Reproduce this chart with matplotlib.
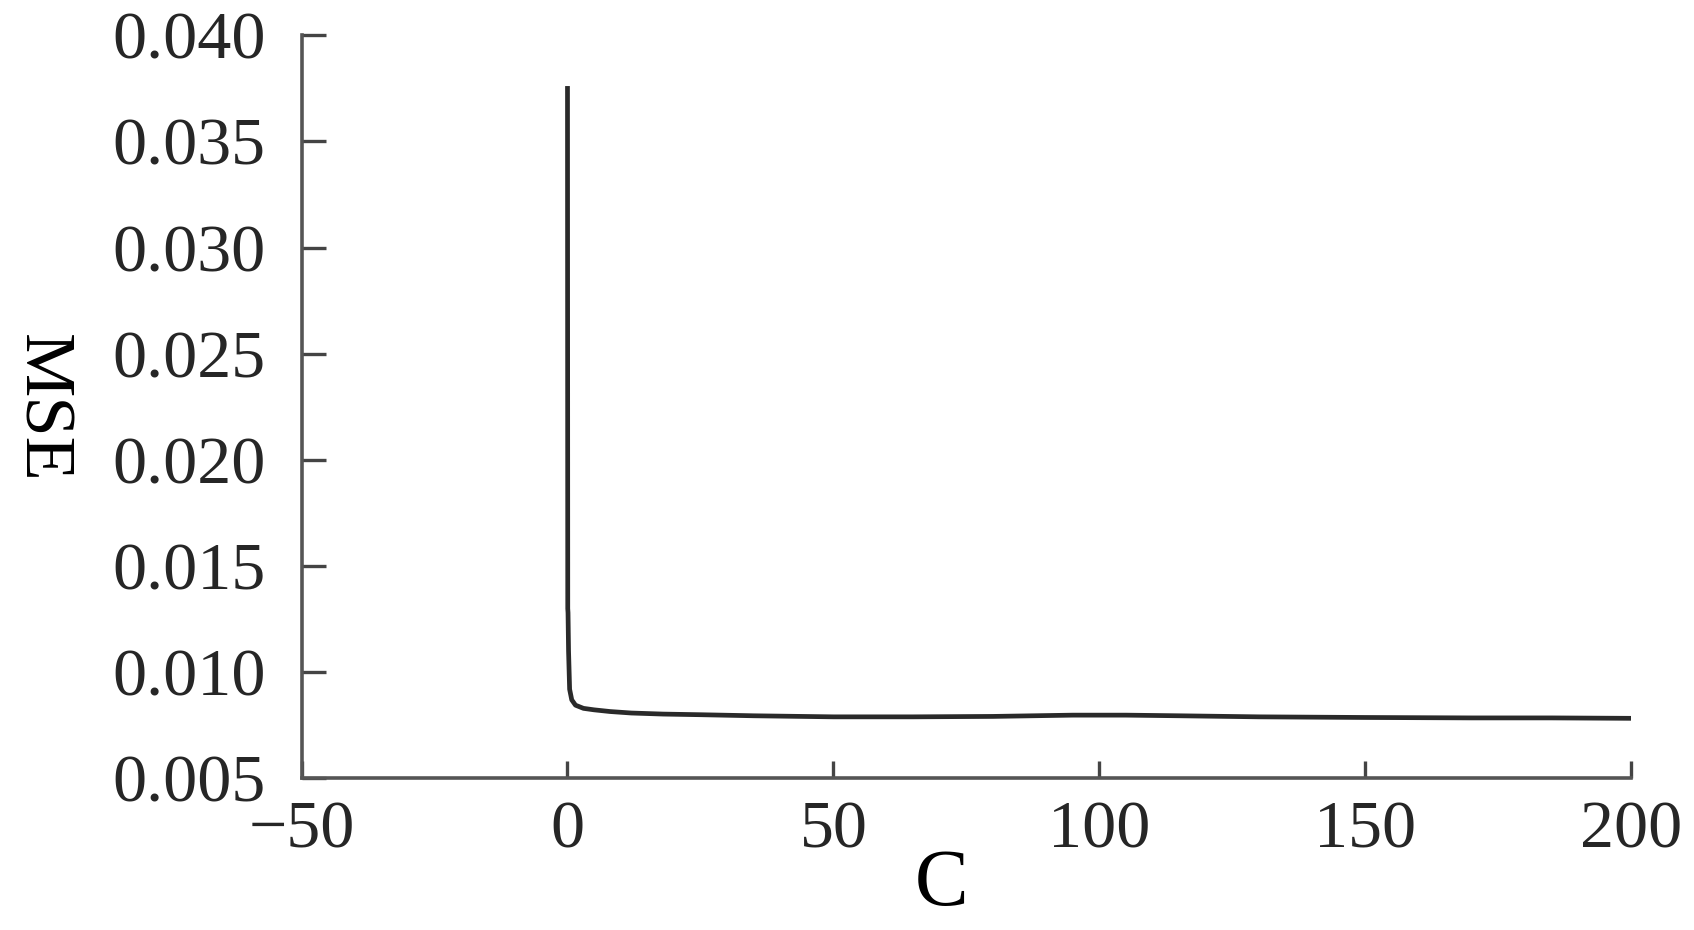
import matplotlib
matplotlib.use("Agg")
import matplotlib.pyplot as plt
import numpy as np

# Data
C_values = [0.0, 0.05, 0.1, 0.2, 0.4, 0.8, 1.5, 3, 5, 8, 12, 18, 25, 35, 50, 65, 80, 95, 105, 115, 130, 150, 170, 185, 200]
mse_values = [0.0375, 0.0130, 0.0128, 0.0110, 0.0092, 0.0087, 0.00845, 0.00830, 0.00823, 0.00815, 0.00808, 0.00803, 0.00800, 0.00795,
              0.00790, 0.00790, 0.00792, 0.00798, 0.00798, 0.00795, 0.00790, 0.00787, 0.00785, 0.00785, 0.00783]
x_ticks = [-50, 0, 50, 100, 150, 200]
y_ticks = [0.005, 0.010, 0.015, 0.020, 0.025, 0.030, 0.035, 0.040]
y_tick_labels = ["0.005", "0.010", "0.015", "0.020", "0.025", "0.030", "0.035", "0.040"]

plt.rcParams['font.family'] = ['Liberation Serif', 'DejaVu Serif']

fig = plt.figure(figsize=(16.94, 9.30), dpi=100)
ax = fig.add_axes([0.178, 0.163, 0.785, 0.799])

ax.plot(C_values, mse_values, color='#2a2a2a', lw=3.4, solid_joinstyle='round')

ax.set_xlim(-50, 200)
ax.set_ylim(0.005, 0.040)
ax.set_xticks(x_ticks)
ax.set_xticklabels([str(t).replace('-', '\u2212') for t in x_ticks])
ax.set_yticks(y_ticks)
ax.set_yticklabels(y_tick_labels)

for s in ['top', 'right']:
    ax.spines[s].set_visible(False)
for s in ['left', 'bottom']:
    ax.spines[s].set_color('#555555')
    ax.spines[s].set_linewidth(2.6)

ax.tick_params(axis='both', direction='in', width=2.4, color='#444444',
               labelsize=49, labelcolor='#262626')
ax.tick_params(axis='y', pad=26, length=17)
ax.tick_params(axis='x', pad=16, length=12)

fig.text(942 / 1694, 1 - 885 / 930, 'C', fontsize=58, color='black', ha='center', va='center')
fig.text(41 / 1694, 1 - 408 / 930, 'MSE', fontsize=52, color='black', rotation=-90,
         ha='center', va='center')

fig.savefig('out.png', dpi=100, facecolor='white')
